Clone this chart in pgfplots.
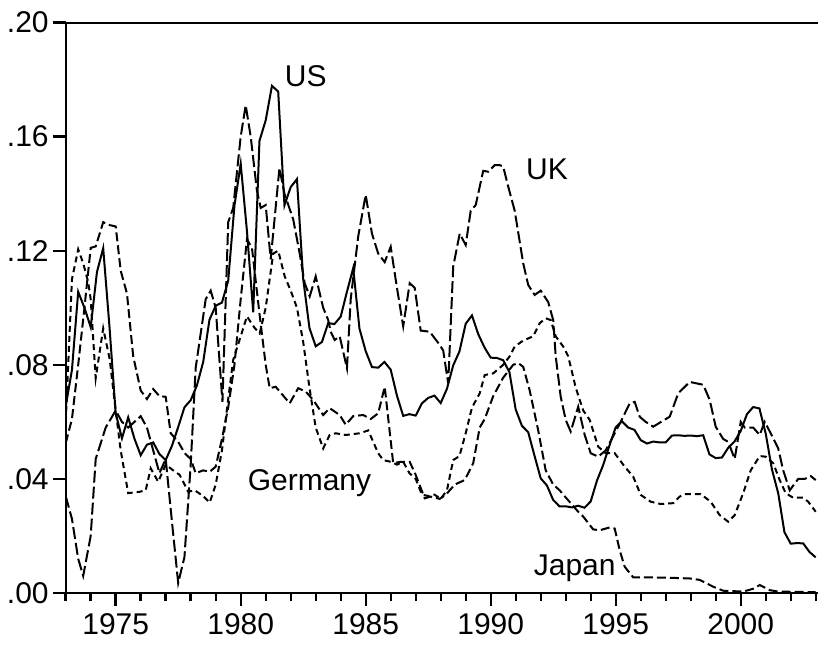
\documentclass[border=0pt]{standalone}
\usepackage{fontspec}
\setmainfont{Liberation Sans}
\usepackage{pgfplots}
\pgfplotsset{compat=1.18}
\begin{document}
\begin{tikzpicture}
\begin{axis}[
  scale only axis, width=377.5pt, height=285.25pt,
  xmin=1973, xmax=2003.2, ymin=0, ymax=0.2,
  axis line style={line width=1pt, black},
  xtick pos=left, ytick pos=left,
  tick align=outside,
  xtick={1975,1980,1985,1990,1995,2000},
  xticklabels={1975,1980,1985,1990,1995,2000},
  minor xtick={1973,1974,1976,1977,1978,1979,1981,1982,1983,1984,1986,1987,1988,1989,1991,1992,1993,1994,1996,1997,1998,1999,2001,2002,2003},
  ytick={0,0.04,0.08,0.12,0.16,0.2},
  yticklabels={.00,.04,.08,.12,.16,.20},
  scaled y ticks=false,
  major tick length=6.5pt, minor tick length=4pt,
  every tick/.style={draw=black, solid, line width=1.2pt},
  every major tick/.style={draw=black, solid, line width=1.2pt},
  every minor tick/.style={draw=black, solid, line width=1.2pt},
  tick label style={font=\fontsize{15}{18}\selectfont},
  yticklabel style={xshift=1.5pt},
]
% US
\addplot[black, solid, line width=1pt] coordinates {
(1973.00,0.0654)(1973.25,0.0782)(1973.50,0.1056)(1973.75,0.1000)
(1974.00,0.0932)(1974.25,0.1125)(1974.50,0.1209)(1974.75,0.0935)
(1975.00,0.0630)(1975.25,0.0542)(1975.50,0.0616)(1975.75,0.0541)
(1976.00,0.0483)(1976.25,0.0520)(1976.50,0.0528)(1976.75,0.0487)
(1977.00,0.0466)(1977.25,0.0516)(1977.50,0.0582)(1977.75,0.0651)
(1978.00,0.0676)(1978.25,0.0728)(1978.50,0.0810)(1978.75,0.0958)
(1979.00,0.1007)(1979.25,0.1018)(1979.50,0.1095)(1979.75,0.1358)
(1980.00,0.1505)(1980.25,0.1269)(1980.50,0.0984)(1980.75,0.1585)
(1981.00,0.1657)(1981.25,0.1778)(1981.50,0.1758)(1981.75,0.1359)
(1982.00,0.1423)(1982.25,0.1451)(1982.50,0.1101)(1982.75,0.0929)
(1983.00,0.0865)(1983.25,0.0880)(1983.50,0.0946)(1983.75,0.0943)
(1984.00,0.0969)(1984.25,0.1056)(1984.50,0.1139)(1984.75,0.0927)
(1985.00,0.0848)(1985.25,0.0792)(1985.50,0.0790)(1985.75,0.0810)
(1986.00,0.0783)(1986.25,0.0692)(1986.50,0.0621)(1986.75,0.0627)
(1987.00,0.0622)(1987.25,0.0665)(1987.50,0.0684)(1987.75,0.0692)
(1988.00,0.0666)(1988.25,0.0716)(1988.50,0.0798)(1988.75,0.0847)
(1989.00,0.0944)(1989.25,0.0973)(1989.50,0.0908)(1989.75,0.0861)
(1990.00,0.0825)(1990.25,0.0824)(1990.50,0.0816)(1990.75,0.0774)
(1991.00,0.0643)(1991.25,0.0586)(1991.50,0.0564)(1991.75,0.0482)
(1992.00,0.0402)(1992.25,0.0377)(1992.50,0.0326)(1992.75,0.0304)
(1993.00,0.0304)(1993.25,0.0300)(1993.50,0.0306)(1993.75,0.0299)
(1994.00,0.0321)(1994.25,0.0394)(1994.50,0.0449)(1994.75,0.0517)
(1995.00,0.0581)(1995.25,0.0602)(1995.50,0.0580)(1995.75,0.0572)
(1996.00,0.0536)(1996.25,0.0524)(1996.50,0.0531)(1996.75,0.0528)
(1997.00,0.0528)(1997.25,0.0552)(1997.50,0.0553)(1997.75,0.0551)
(1998.00,0.0552)(1998.25,0.0550)(1998.50,0.0553)(1998.75,0.0486)
(1999.00,0.0473)(1999.25,0.0475)(1999.50,0.0509)(1999.75,0.0531)
(2000.00,0.0568)(2000.25,0.0627)(2000.50,0.0652)(2000.75,0.0647)
(2001.00,0.0559)(2001.25,0.0433)(2001.50,0.0350)(2001.75,0.0213)
(2002.00,0.0173)(2002.25,0.0175)(2002.50,0.0174)(2002.75,0.0144)
(2003.00,0.0125)
};
% UK
\addplot[black, line width=1pt, dash pattern=on 6pt off 2pt] coordinates {
(1973.00,0.034)(1973.25,0.026)(1973.50,0.012)(1973.70,0.006)(1974.00,0.020)
(1974.20,0.047)(1974.60,0.058)(1975.00,0.064)(1975.25,0.060)(1975.50,0.058)
(1975.75,0.060)(1976.00,0.062)(1976.25,0.058)(1976.50,0.050)(1976.75,0.042)
(1977.00,0.047)(1977.25,0.025)(1977.50,0.0035)(1977.75,0.0126)(1978.00,0.045)
(1978.20,0.079)(1978.60,0.103)(1978.80,0.106)(1979.00,0.100)(1979.27,0.067)
(1979.50,0.130)(1979.70,0.135)(1980.00,0.160)(1980.20,0.171)(1980.40,0.160)
(1980.65,0.141)(1980.80,0.135)(1981.00,0.136)(1981.20,0.117)(1981.55,0.149)
(1981.75,0.140)(1982.10,0.131)(1982.36,0.119)(1982.56,0.1086)(1982.76,0.104)
(1983.00,0.111)(1983.30,0.100)(1983.50,0.0957)(1983.60,0.0916)(1983.76,0.0887)
(1983.96,0.090)(1984.25,0.0788)(1984.40,0.103)(1984.70,0.125)(1985.00,0.1396)
(1985.25,0.126)(1985.50,0.119)(1985.76,0.116)(1986.00,0.1214)(1986.25,0.107)
(1986.50,0.0935)(1986.76,0.1086)(1986.96,0.107)(1987.20,0.092)(1987.56,0.0916)
(1987.96,0.087)(1988.10,0.085)(1988.30,0.0735)(1988.50,0.1144)(1988.76,0.126)
(1989.00,0.122)(1989.20,0.134)(1989.40,0.136)(1989.70,0.148)(1989.90,0.1477)
(1990.16,0.150)(1990.36,0.150)(1990.50,0.1495)(1990.70,0.1425)(1990.96,0.134)
(1991.30,0.1156)(1991.50,0.108)(1991.76,0.1045)(1992.00,0.106)(1992.30,0.102)
(1992.50,0.0957)(1992.60,0.083)(1992.80,0.0688)(1993.00,0.0607)(1993.20,0.0566)
(1993.50,0.0653)(1993.76,0.0554)(1994.00,0.049)(1994.30,0.0478)(1994.60,0.050)
(1994.90,0.055)(1995.20,0.060)(1995.56,0.0665)(1995.76,0.067)(1995.96,0.0618)
(1996.20,0.060)(1996.50,0.0583)(1996.76,0.0597)(1997.16,0.0618)(1997.50,0.070)
(1997.96,0.074)(1998.50,0.073)(1998.76,0.0677)(1999.00,0.0583)(1999.30,0.054)
(1999.50,0.053)(1999.76,0.047)(2000.00,0.060)(2000.16,0.058)(2000.50,0.058)
(2000.76,0.0554)(2000.96,0.060)(2001.20,0.056)(2001.50,0.0507)(2001.70,0.043)
(2001.96,0.036)(2002.30,0.040)(2002.56,0.040)(2002.80,0.041)(2003.00,0.0396)
};
% Japan
\addplot[black, line width=1pt, dash pattern=on 4.5pt off 2pt] coordinates {
(1973.00,0.0525)(1973.25,0.061)(1973.50,0.080)(1973.75,0.100)(1974.00,0.121)
(1974.20,0.1215)(1974.50,0.130)(1974.75,0.129)(1975.00,0.1285)(1975.20,0.113)
(1975.45,0.105)(1975.70,0.083)(1976.00,0.071)(1976.25,0.068)(1976.50,0.0715)
(1976.75,0.069)(1977.00,0.0688)(1977.20,0.056)(1977.50,0.053)(1977.76,0.049)
(1978.00,0.047)(1978.20,0.042)(1978.50,0.043)(1978.76,0.0425)(1979.00,0.0443)
(1979.25,0.054)(1979.50,0.065)(1979.75,0.080)(1980.00,0.103)(1980.25,0.124)
(1980.45,0.121)(1980.75,0.098)(1981.00,0.080)(1981.16,0.0718)(1981.40,0.0723)
(1981.96,0.0665)(1982.30,0.0718)(1982.60,0.0706)(1982.90,0.0677)(1983.30,0.0624)
(1983.56,0.0648)(1983.96,0.0624)(1984.20,0.059)(1984.50,0.062)(1984.90,0.0624)
(1985.20,0.061)(1985.50,0.063)(1985.76,0.0723)(1986.10,0.0455)(1986.40,0.046)
(1986.76,0.046)(1987.00,0.0414)(1987.36,0.0332)(1987.60,0.0338)(1987.96,0.033)
(1988.20,0.0344)(1988.56,0.038)(1988.96,0.0396)(1989.30,0.0455)(1989.56,0.058)
(1989.76,0.061)(1990.10,0.069)(1990.50,0.0755)(1990.90,0.080)(1991.10,0.0806)
(1991.30,0.0793)(1991.56,0.071)(1991.90,0.057)(1992.20,0.043)(1992.50,0.038)
(1992.76,0.036)(1993.00,0.0335)(1993.25,0.031)(1993.50,0.0285)(1993.70,0.0268)
(1994.10,0.0223)(1994.36,0.022)(1994.76,0.023)(1994.96,0.0226)(1995.16,0.015)
(1995.36,0.0092)(1995.70,0.0055)(1997.00,0.0054)(1997.96,0.0051)(1998.36,0.0046)
(1998.90,0.0022)(1999.30,0.0008)(2000.10,0.0005)(2000.50,0.0015)(2000.76,0.0028)
(2001.16,0.001)(2001.50,0.0005)(2003.00,0.0003)
};
% Germany
\addplot[black, line width=1pt, dash pattern=on 3pt off 2pt] coordinates {
(1973.00,0.060)(1973.25,0.110)(1973.50,0.1205)(1973.70,0.1156)(1973.90,0.109)
(1974.00,0.103)(1974.20,0.0753)(1974.50,0.0928)(1974.76,0.082)(1975.00,0.064)
(1975.20,0.050)(1975.50,0.035)(1975.96,0.0355)(1976.20,0.036)(1976.40,0.0437)
(1976.70,0.039)(1977.00,0.045)(1977.30,0.043)(1977.56,0.0414)(1977.90,0.0355)
(1978.16,0.036)(1978.50,0.034)(1978.76,0.0317)(1979.00,0.038)(1979.25,0.050)
(1979.50,0.068)(1979.70,0.0817)(1980.00,0.090)(1980.25,0.097)(1980.55,0.093)
(1980.76,0.091)(1981.00,0.100)(1981.30,0.119)(1981.50,0.120)(1981.76,0.111)
(1982.00,0.106)(1982.25,0.100)(1982.50,0.088)(1982.75,0.072)(1983.00,0.058)
(1983.30,0.0507)(1983.56,0.0554)(1983.80,0.056)(1984.20,0.0554)(1984.76,0.056)
(1985.10,0.057)(1985.50,0.049)(1985.70,0.0466)(1986.00,0.046)(1986.25,0.045)
(1986.50,0.046)(1986.75,0.042)(1987.00,0.040)(1987.25,0.0345)(1987.50,0.034)
(1987.75,0.0345)(1988.00,0.033)(1988.25,0.036)(1988.50,0.0466)(1988.75,0.048)
(1989.00,0.056)(1989.25,0.065)(1989.56,0.070)(1989.76,0.0764)(1990.10,0.077)
(1990.50,0.080)(1990.76,0.083)(1990.96,0.0864)(1991.30,0.0885)(1991.70,0.090)
(1991.96,0.0946)(1992.20,0.0963)(1992.40,0.0957)(1992.60,0.090)(1992.90,0.0864)
(1993.10,0.083)(1993.40,0.072)(1993.70,0.064)(1993.96,0.0607)(1994.30,0.0513)
(1994.60,0.049)(1994.96,0.049)(1995.36,0.0443)(1995.70,0.0408)(1996.00,0.0344)
(1996.40,0.032)(1996.80,0.0312)(1997.30,0.0315)(1997.56,0.0338)(1997.76,0.0347)
(1998.40,0.0347)(1998.80,0.032)(1999.16,0.0273)(1999.50,0.025)(1999.76,0.0273)
(2000.10,0.035)(2000.40,0.043)(2000.76,0.048)(2001.00,0.0478)(2001.30,0.0455)
(2001.56,0.0396)(2001.80,0.035)(2002.10,0.0334)(2002.50,0.0334)(2002.70,0.032)
(2003.00,0.0285)
};
\node[anchor=base, font=\fontsize{15}{18}\selectfont] at (axis cs:1982.6,0.1775) {US};
\node[anchor=base, font=\fontsize{15}{18}\selectfont] at (axis cs:1992.25,0.1448) {UK};
\node[anchor=base, font=\fontsize{15}{18}\selectfont] at (axis cs:1982.75,0.0361) {Germany};
\node[anchor=base, font=\fontsize{15}{18}\selectfont] at (axis cs:1993.36,0.0063) {Japan};
\end{axis}
\pgfresetboundingbox
\path[use as bounding box] ([xshift=-32.85pt,yshift=-26pt]current axis.south west) rectangle ([xshift=376.15pt,yshift=296.5pt]current axis.south west);
\end{tikzpicture}
\end{document}
